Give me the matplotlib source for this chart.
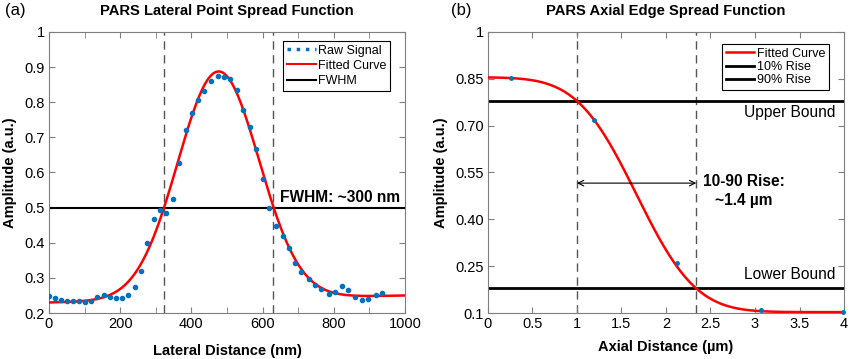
import math
import numpy as np
import matplotlib
matplotlib.use("Agg")
import matplotlib.pyplot as plt
from matplotlib.lines import Line2D

plt.rcParams['font.family'] = ['Liberation Sans', 'DejaVu Sans']

# ---- panel (a): lateral point spread function ----
raw_x = [0, 17, 34, 50, 67, 84, 101, 119, 136, 154, 172, 189, 206, 223, 241, 258,
         276, 294, 311, 328, 347, 364, 384, 401, 418, 436, 455, 474, 492, 508, 528,
         546, 564, 582, 600, 618, 637, 656, 674, 691, 709, 729, 747, 765, 785, 803,
         822, 840, 859, 878, 897, 917, 936]
raw_y = [0.249, 0.244, 0.236, 0.233, 0.233, 0.235, 0.232, 0.235, 0.245, 0.250, 0.247,
         0.244, 0.244, 0.252, 0.274, 0.321, 0.399, 0.469, 0.493, 0.486, 0.525, 0.627,
         0.721, 0.768, 0.805, 0.833, 0.861, 0.875, 0.873, 0.866, 0.834, 0.778, 0.729,
         0.667, 0.581, 0.500, 0.449, 0.418, 0.384, 0.343, 0.316, 0.298, 0.281, 0.269,
         0.253, 0.261, 0.277, 0.266, 0.245, 0.236, 0.241, 0.250, 0.256]

# gaussian fit parameters
fit_center = 476.0
fit_sigma = 114.0
fit_amp = 0.648
fit_base0 = 0.230      # baseline at x = 0
fit_base_slope = 0.00002
fwhm_level = 0.5
fwhm_edges = [322, 629]

# ---- panel (b): axial edge spread function ----
esf_x = [0.258, 1.195, 2.127, 3.064, 3.99]
esf_y = [0.852, 0.718, 0.260, 0.110, 0.103]
esf_high = 0.855
esf_low = 0.103
esf_mu = 1.67
esf_sigma = 0.525
upper_bound = 0.78
lower_bound = 0.18
rise_edges = [1.0, 2.34]

blue = '#0072BD'
grey_axis = '#7f7f7f'

fig = plt.figure(figsize=(8.5, 3.59), dpi=100)
ax1 = fig.add_axes([0.0576, 0.128, 0.419, 0.783])
ax2 = fig.add_axes([0.574, 0.128, 0.419, 0.783])


def style(ax):
    for s in ax.spines.values():
        s.set_color(grey_axis)
        s.set_linewidth(0.8)
    ax.tick_params(which='both', direction='in', top=True, right=True,
                   color=grey_axis, labelsize=10.5, length=4, pad=3)


# panel a
xs = np.linspace(0, 1000, 600)
fit = fit_base0 + fit_base_slope * xs + fit_amp * np.exp(-(xs - fit_center) ** 2 / (2 * fit_sigma ** 2))
ax1.plot(raw_x, raw_y, linestyle='none', marker='o', markersize=3, color=blue, zorder=4)
ax1.plot(xs, fit, color='#ff0000', lw=1.8, zorder=3)
ax1.axhline(fwhm_level, color='black', lw=1.5, zorder=2)
for e in fwhm_edges:
    ax1.axvline(e, color='#555555', lw=1.0, dashes=(6, 4), zorder=1)
ax1.text(650, 0.53, 'FWHM: ~300 nm', fontsize=11.2, fontweight='bold', va='center')
ax1.set_xlim(0, 1000)
ax1.set_ylim(0.2, 1)
ax1.set_xticks(np.arange(0, 1001, 200))
ax1.set_xticks(np.arange(0, 1001, 100), minor=True)
ax1.set_yticks(np.arange(0.2, 1.01, 0.1))
ax1.set_yticklabels(['0.2', '0.3', '0.4', '0.5', '0.6', '0.7', '0.8', '0.9', '1'])
style(ax1)
ax1.set_xlabel('Lateral Distance (nm)', fontsize=10.5, fontweight='bold', labelpad=9)
ax1.set_ylabel('Amplitude (a.u.)', fontsize=10.5, fontweight='bold', labelpad=5)
ax1.set_title('PARS Lateral Point Spread Function', fontsize=10.6, fontweight='bold', pad=12)
h_raw = Line2D([], [], color=blue, linestyle=':', lw=2.5)
h_fit = Line2D([], [], color='#ff0000', lw=1.5)
h_fw = Line2D([], [], color='black', lw=1.5)
leg = ax1.legend([h_raw, h_fit, h_fw], ['Raw Signal', 'Fitted Curve', 'FWHM'],
                 loc='upper right', bbox_to_anchor=(0.958, 0.968), fontsize=9,
                 fancybox=False, framealpha=1, edgecolor='black', handlelength=2.3,
                 handletextpad=0.2, borderpad=0.3, labelspacing=0.25, borderaxespad=0)
leg.get_frame().set_linewidth(0.8)

# panel b
xb = np.linspace(0, 4, 400)
erfc = np.vectorize(math.erfc)
esf = esf_low + (esf_high - esf_low) * 0.5 * erfc((xb - esf_mu) / (math.sqrt(2) * esf_sigma))
ax2.plot(xb, esf, color='#ff0000', lw=1.8, label='Fitted Curve', zorder=3)
ax2.axhline(upper_bound, color='black', lw=2, label='10% Rise', zorder=2)
ax2.axhline(lower_bound, color='black', lw=2, label='90% Rise', zorder=2)
ax2.plot(esf_x, esf_y, linestyle='none', marker='o', markersize=2.5, color=blue,
         zorder=4, clip_on=False)
for e in rise_edges:
    ax2.axvline(e, color='#555555', lw=1.0, dashes=(6, 4), zorder=1)
ax2.annotate('', xy=(rise_edges[0], 0.516), xytext=(rise_edges[1], 0.516),
             arrowprops=dict(arrowstyle='<->', color='black', lw=0.8,
                             shrinkA=0, shrinkB=0))
ax2.text(2.87, 0.49, '10-90 Rise:\n~1.4 µm', fontsize=11.2, fontweight='bold',
         ha='center', va='center', linespacing=1.3)
ax2.text(3.9, 0.743, 'Upper Bound', fontsize=11.2, ha='right', va='center')
ax2.text(3.9, 0.223, 'Lower Bound', fontsize=11.2, ha='right', va='center')
ax2.set_xlim(0, 4)
ax2.set_ylim(0.1, 1)
ax2.set_xticks(np.arange(0, 4.01, 0.5))
ax2.set_xticklabels(['0', '0.5', '1', '1.5', '2', '2.5', '3', '3.5', '4'])
ax2.set_yticks([0.1, 0.25, 0.40, 0.55, 0.70, 0.85, 1.0])
ax2.set_yticklabels(['0.1', '0.25', '0.40', '0.55', '0.70', '0.85', '1'])
style(ax2)
ax2.set_xlabel('Axial Distance (µm)', fontsize=10.5, fontweight='bold', labelpad=6)
ax2.set_ylabel('Amplitude (a.u.)', fontsize=10.5, fontweight='bold', labelpad=5)
ax2.set_title('PARS Axial Edge Spread Function', fontsize=10.6, fontweight='bold', pad=12)
leg2 = ax2.legend(loc='upper right', bbox_to_anchor=(0.958, 0.957), fontsize=9,
                  fancybox=False, framealpha=1, edgecolor='black', handlelength=2.3,
                  handletextpad=0.2, borderpad=0.3, labelspacing=0.1, borderaxespad=0)
leg2.get_frame().set_linewidth(0.8)

fig.text(0.006, 0.970, '(a)', fontsize=12, va='center')
fig.text(0.530, 0.970, '(b)', fontsize=12, va='center')

fig.savefig('out.png', dpi=100)
